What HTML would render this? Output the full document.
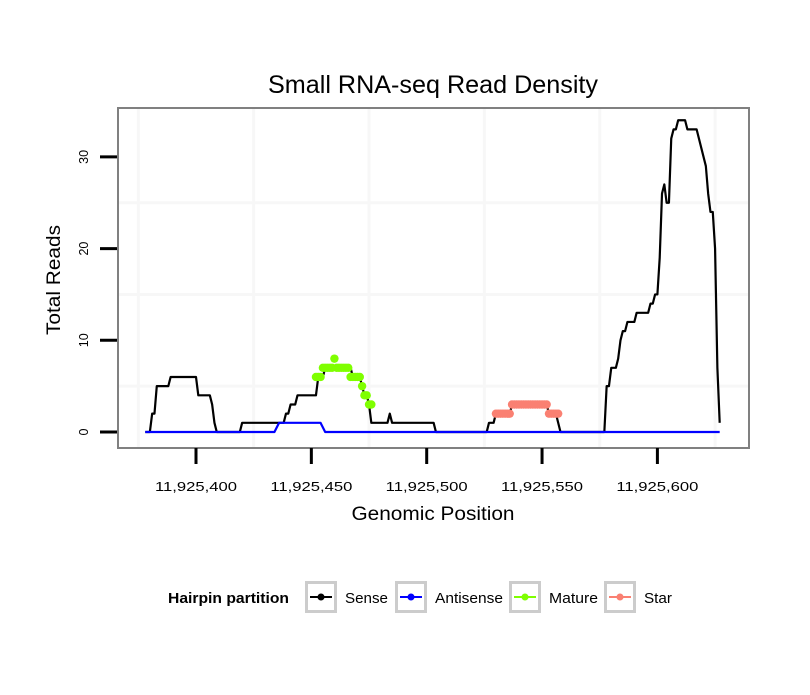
<!DOCTYPE html>
<html><head><meta charset="utf-8"><style>
body{margin:0;background:#fff;font-family:"Liberation Sans",sans-serif}
svg text{font-family:"Liberation Sans",sans-serif}
</style></head><body>
<svg id="chart" width="810" height="690" viewBox="0 0 810 690" xmlns="http://www.w3.org/2000/svg">
<rect width="810" height="690" fill="#fff"/>
<text x="433" y="93" font-size="25" text-anchor="middle" textLength="330" lengthAdjust="spacingAndGlyphs">Small RNA-seq Read Density</text>
<rect x="118" y="108" width="631" height="340" fill="#fff"/>
<g id="grid"></g>
<g id="series"></g>
<rect x="118" y="108" width="631" height="340" fill="none" stroke="#808080" stroke-width="2"/>
<g id="axes"></g>
<text x="433" y="520" font-size="19" text-anchor="middle" textLength="163" lengthAdjust="spacingAndGlyphs">Genomic Position</text>
<text transform="translate(60,280) rotate(-90)" font-size="19" text-anchor="middle" textLength="110" lengthAdjust="spacingAndGlyphs">Total Reads</text>
<g>
<text x="168" y="603" font-size="14.5" font-weight="bold" textLength="121" lengthAdjust="spacingAndGlyphs">Hairpin partition</text>
<g id="legend"></g>
</g>
</svg>
<script>
const sensePos=[378,380,381,382,383,384,388,389,400,401,405,406,407,408,409,419,420,438,439,440,441,443,444,452,453,455,456,467,468,471,472,473,474,475,476,483,484,485,503,504,526,527,529,530,536,537,552,553,556,558,577,578,579,580,582,583,584,585,586,587,590,591,596,597,598,599,600,601,602,603,604,605,606,607,608,609,612,613,617,621,622,623,624,625,626,627];
const senseVal=[0,0,2,2,5,5,5,6,6,4,4,4,3,1,0,0,1,1,2,2,3,3,4,4,6,6,7,7,6,6,5,4,4,3,1,1,2,1,1,0,0,1,1,2,2,3,3,2,2,0,0,5,5,7,7,8,10,11,11,12,12,13,13,14,14,15,15,19,26,27,25,25,32,33,33,34,34,33,33,29,26,24,24,20,7,1];
const antiPos=[378,434,436,454,456,627];
const antiVal=[0,0,1,1,0,0];
const maturePos=[452,453,454,455,456,457,458,459,460,461,462,463,464,465,466,467,468,469,470,471,472,473,474,475,476];
const matureVal=[6,6,6,7,7,7,7,7,8,7,7,7,7,7,7,6,6,6,6,6,5,4,4,3,3];
const starPos=[530,531,532,533,534,535,536,537,538,539,540,541,542,543,544,545,546,547,548,549,550,551,552,553,554,555,556,557];
const starVal=[2,2,2,2,2,2,2,3,3,3,3,3,3,3,3,3,3,3,3,3,3,3,3,2,2,2,2,2];
const xTicks=[11925400,11925450,11925500,11925550,11925600];
const xTickLabels=["11,925,400","11,925,450","11,925,500","11,925,550","11,925,600"];
const yTicks=[0,10,20,30];
const xMinor=[375,425,475,525,575,625];
const yMinor=[5,15,25];
const NS="http://www.w3.org/2000/svg";
const X=p=>196+(p-400)*2.307;
const Y=v=>432-v*9.17;
function mk(tag,attrs,parent){const e=document.createElementNS(NS,tag);for(const k in attrs)e.setAttribute(k,attrs[k]);parent.appendChild(e);return e;}
const grid=document.getElementById('grid'),ser=document.getElementById('series'),ax=document.getElementById('axes'),lg=document.getElementById('legend');
xMinor.forEach(p=>{const l=mk('line',{x1:X(p),x2:X(p),y1:109,y2:447,stroke:'#f7f7f7','stroke-width':3},grid);

});
yMinor.forEach(v=>{const l=mk('line',{x1:119,x2:748,y1:Y(v),y2:Y(v),stroke:'#f7f7f7','stroke-width':3},grid);

});
function line(pos,val,color,name){const pts=pos.map((p,i)=>X(p)+','+Y(val[i])).join(' ');
const l=mk('polyline',{points:pts,fill:'none',stroke:color,'stroke-width':2.2,'stroke-linejoin':'round'},ser);

}
function dots(pos,val,color,name){const g=mk('g',{},ser);


pos.forEach((p,i)=>{const c=mk('circle',{cx:X(p),cy:Y(val[i]),r:4.2,fill:color},g);

});}
line(sensePos,senseVal,'#000','sense-line');
line(antiPos,antiVal,'#0000ff','antisense-line');
dots(maturePos,matureVal,'#7fff00','mature-series');
dots(starPos,starVal,'#fa8072','star-series');
xTicks.forEach((t,i)=>{const x=X(t-11925000);
const l=mk('line',{x1:x,x2:x,y1:448,y2:464,stroke:'#000','stroke-width':3},ax);


const tx=mk('text',{x:x,y:491,'font-size':12.5,'text-anchor':'middle',textLength:82,lengthAdjust:'spacingAndGlyphs'},ax);tx.textContent=xTickLabels[i];

});
yTicks.forEach(v=>{const y=Y(v);
const l=mk('line',{x1:100,x2:117,y1:y,y2:y,stroke:'#000','stroke-width':3},ax);


const tx=mk('text',{transform:`translate(88,${y}) rotate(-90)`,'font-size':12.5,'text-anchor':'middle'},ax);tx.textContent=String(v);

});
const lgNames=['Sense','Antisense','Mature','Star'],lgColors=['#000','#0000ff','#7fff00','#fa8072'],lgX=[305,395,509,604],lgW=[43,68,49,28];
lgNames.forEach((n,i)=>{const g=mk('g',{},lg);


const x=lgX[i];
mk('rect',{x:x+1.5,y:582.5,width:29,height:29,fill:'#fff',stroke:'#cccccc','stroke-width':3},g);
mk('line',{x1:x+5,x2:x+27,y1:597,y2:597,stroke:lgColors[i],'stroke-width':2},g);
mk('circle',{cx:x+16,cy:597,r:3.5,fill:lgColors[i]},g);
const t=mk('text',{x:x+40,y:603,'font-size':15,textLength:lgW[i],lengthAdjust:'spacingAndGlyphs'},g);t.textContent=n;});
</script>
</body></html>
